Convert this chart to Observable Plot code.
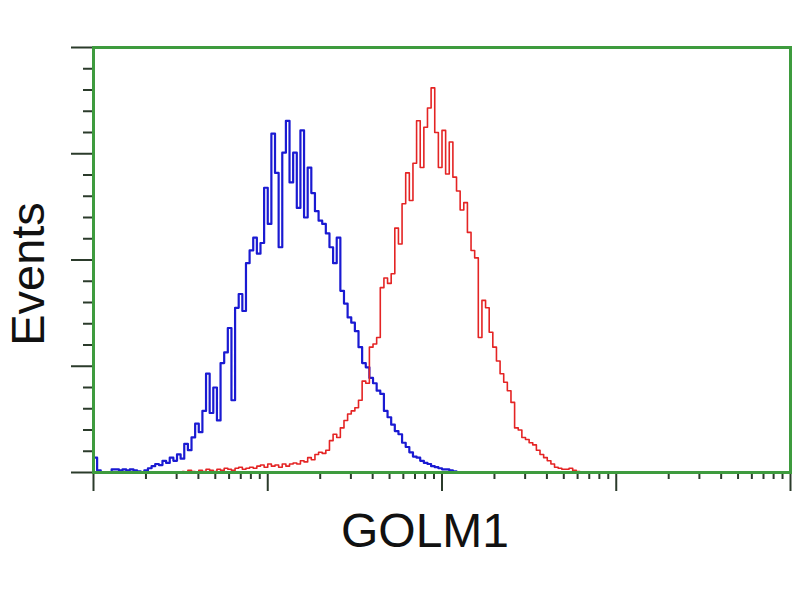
<!DOCTYPE html>
<html>
<head>
<meta charset="utf-8">
<script src="https://cdn.jsdelivr.net/npm/d3@7"></script>
<script src="https://cdn.jsdelivr.net/npm/@observablehq/plot@0.6"></script>
<style>
  html, body { margin: 0; padding: 0; background: #fff; }
  #chart svg { display: block; }
</style>
</head>
<body>
<div id="chart"></div>
<script>
// Histogram channels: 48 channels per decade on a 4-decade log axis
const channelsPerDecade = 48;

// Blue (control) histogram, counts starting at channel 0
const blueStart = 0;
const blueCounts = [
  14, 2, 0, 0, 0, 3, 3, 2, 3, 2, 3, 2, 1, 0, 2, 4, 6, 8, 7, 11,
  9, 14, 11, 17, 13, 27, 21, 33, 46, 38, 58, 93, 56, 80, 49, 103, 113, 136, 68, 155,
  168, 152, 197, 209, 221, 206, 216, 268, 234, 319, 282, 212, 301, 331, 273, 301, 249, 322, 240, 287,
  263, 246, 237, 234, 225, 212, 197, 221, 171, 159, 146, 141, 133, 118, 103, 99, 89, 84, 77, 74,
  58, 52, 45, 39, 36, 28, 24, 19, 15, 14, 11, 9, 8, 6, 5, 4, 3, 3, 2, 1, 0
];

// Red (GOLM1) histogram, counts starting at channel 24
const redStart = 24;
const redCounts = [
  1, 0, 2, 1, 0, 2, 1, 3, 2, 1, 3, 2, 4, 3, 2, 4, 5, 3, 4, 5,
  4, 6, 7, 5, 8, 6, 7, 5, 8, 6, 8, 9, 8, 11, 10, 14, 12, 17, 19, 18,
  21, 30, 36, 33, 42, 49, 55, 58, 61, 68, 86, 84, 118, 121, 127, 174, 183, 178, 187, 230,
  215, 253, 282, 256, 291, 331, 287, 325, 343, 362, 320, 287, 322, 281, 311, 278, 265, 247, 254, 226,
  209, 202, 127, 162, 155, 132, 118, 105, 93, 85, 77, 66, 42, 40, 33, 31, 28, 26, 21, 17,
  14, 11, 8, 5, 4, 3, 3, 4, 2, 1, 0
];

// Axis ticks
const xMajorTicks = [1, 10, 100, 1000, 10000];
const xMinorMultipliers = [2, 3, 4, 5, 6, 7, 8, 9];
const yMajorTicks = [0, 100, 200, 300, 400];
const yMinorStep = 20;

const xLabel = "GOLM1";
const yLabel = "Events";

const toRows = (counts, start, series) =>
  counts.map((c, i) => ({x: Math.pow(10, (start + i + 0.5) / channelsPerDecade), y: c, series}));

const blue = toRows(blueCounts, blueStart, "control");
const red = toRows(redCounts, redStart, "GOLM1");

const xMinorTicks = xMajorTicks.slice(0, -1).flatMap(d => xMinorMultipliers.map(k => d * k));
const yMinorTicks = d3.range(0, 400 + 1, yMinorStep).filter(v => !yMajorTicks.includes(v));

const green = "#3e9b3e";
const tickColor = "#2b3b2b";

const chart = Plot.plot({
  width: 800,
  height: 600,
  marginLeft: 93,
  marginRight: 10,
  marginTop: 47,
  marginBottom: 128,
  style: {background: "#ffffff", fontFamily: "'Liberation Sans', Arial, sans-serif"},
  x: {type: "log", domain: [1, 10000]},
  y: {domain: [0, 400]},
  marks: [
    Plot.axisY(yMinorTicks, {tickSize: 10, stroke: tickColor, strokeWidth: 2, tickFormat: () => "", label: null}),
    Plot.axisY(yMajorTicks, {tickSize: 22, stroke: tickColor, strokeWidth: 2, tickFormat: () => "", label: null}),
    Plot.axisX(xMinorTicks, {tickSize: 7, stroke: tickColor, strokeWidth: 2, tickFormat: () => "", label: null}),
    Plot.axisX(xMajorTicks, {tickSize: 19, stroke: tickColor, strokeWidth: 2, tickFormat: () => "", label: null}),
    Plot.line(blue, {x: "x", y: "y", curve: "step", stroke: "#1a1ad2", strokeWidth: 2.2}),
    Plot.line(red, {x: "x", y: "y", curve: "step", stroke: "#e42424", strokeWidth: 1.6}),
    Plot.frame({stroke: green, strokeWidth: 3}),
    Plot.text([xLabel], {frameAnchor: "bottom", textAnchor: "middle", lineAnchor: "middle", dx: -17, dy: 59, fontSize: 48, fill: "#111", text: d => d}),
    Plot.text([yLabel], {frameAnchor: "left", textAnchor: "middle", lineAnchor: "middle", rotate: -90, dx: -65, dy: 14, fontSize: 47, fill: "#111", text: d => d})
  ]
});

document.getElementById("chart").appendChild(chart);
</script>
</body>
</html>
